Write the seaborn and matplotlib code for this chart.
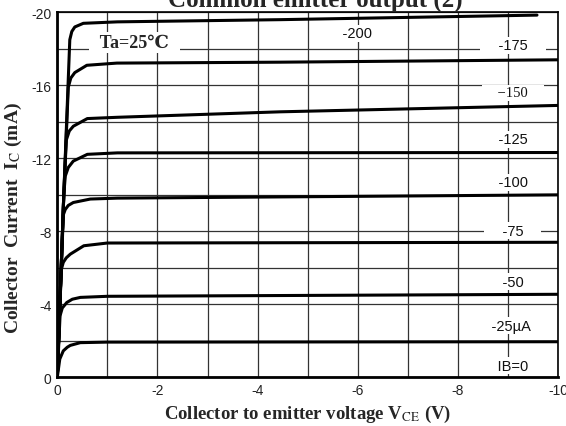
import numpy as np
import pandas as pd
import matplotlib
matplotlib.use("Agg")
import matplotlib.pyplot as plt
import seaborn as sns

# curves: base current label -> (Vce points, Ic points)
ib_labels = ["-200", "-175", "-150", "-125", "-100", "-75", "-50", "-25"]

vce_200 = [0, 0.13, 0.25, 0.29, 0.35, 0.52, 1.2, 4.45, 9.58]
ic_200 = [0, -10.0, -18.5, -18.95, -19.2, -19.4, -19.48, -19.6, -19.85]
vce_175 = [0, 0.13, 0.22, 0.27, 0.35, 0.59, 1.19, 4.45, 10]
ic_175 = [0, -10.0, -15.9, -16.4, -16.7, -17.1, -17.22, -17.27, -17.4]
vce_150 = [0, 0.13, 0.18, 0.24, 0.32, 0.6, 1.2, 4.45, 10]
ic_150 = [0, -10.0, -13.0, -13.5, -13.76, -14.18, -14.25, -14.55, -14.9]
vce_125 = [0, 0.13, 0.16, 0.22, 0.32, 0.6, 1.2, 10]
ic_125 = [0, -10.0, -11.03, -11.5, -11.85, -12.22, -12.3, -12.32]
vce_100 = [0, 0.12, 0.16, 0.22, 0.32, 0.66, 1.2, 10]
ic_100 = [0, -8.9, -9.2, -9.42, -9.58, -9.77, -9.82, -10.0]
vce_75 = [0, 0.08, 0.12, 0.18, 0.26, 0.53, 1.0, 10]
ic_75 = [0, -5.9, -6.3, -6.55, -6.75, -7.21, -7.36, -7.4]
vce_50 = [0, 0.055, 0.1, 0.19, 0.3, 0.46, 1.0, 10]
ic_50 = [0, -3.37, -3.8, -4.1, -4.28, -4.38, -4.44, -4.55]
vce_25 = [0, 0.05, 0.12, 0.2, 0.26, 0.46, 1.0, 10]
ic_25 = [0, -1.0, -1.45, -1.65, -1.75, -1.9, -1.93, -1.95]

# curve annotations (text, Vce, Ic)
note_text = ["-200", "-175", "\u2212150", "-125", "-100", "-75", "-50", "-25\u00b5A", "IB=0"]
note_v = [6.0, 9.1, 9.1, 9.1, 9.1, 9.1, 9.1, 9.05, 9.1]
note_i = [-18.85, -18.2, -15.6, -13.05, -10.7, -8.03, -5.24, -2.83, -0.64]

x_ticks = [0, -2, -4, -6, -8, -10]
y_ticks = [0, -4, -8, -12, -16, -20]

vce_all = [vce_200, vce_175, vce_150, vce_125, vce_100, vce_75, vce_50, vce_25]
ic_all = [ic_200, ic_175, ic_150, ic_125, ic_100, ic_75, ic_50, ic_25]
rows = []
for lab, vs, cs in zip(ib_labels, vce_all, ic_all):
    for v, c in zip(vs, cs):
        rows.append({"ib": lab, "vce": -v, "ic": c})
df = pd.DataFrame(rows)

sns.set_theme(style="white")
plt.rcParams["font.family"] = ["Liberation Sans", "DejaVu Sans"]
plt.rcParams["mathtext.fontset"] = "stix"
serif = ["Liberation Serif", "DejaVu Serif"]

fig = plt.figure(figsize=(5.66, 4.27), dpi=100)
ax = fig.add_axes([0.1012, 0.114, 0.8847, 0.8547])

sns.lineplot(data=df, x="vce", y="ic", units="ib", estimator=None, sort=False,
             color="black", linewidth=2.2, ax=ax, legend=False, zorder=3)

ax.set_xlim(0, -10)
ax.set_ylim(0, -20)
ax.set_xticks(x_ticks)
ax.set_xticks(np.arange(0, -11, -1), minor=True)
ax.set_yticks(y_ticks)
ax.set_yticks(np.arange(0, -21, -2), minor=True)
ax.set_xticklabels([str(t) for t in x_ticks], fontsize=10)
ax.set_yticklabels([str(t) for t in y_ticks], fontsize=10)
ax.tick_params(which="both", length=0, pad=4, colors="#222222")
ax.grid(True, which="both", color="#333333", linewidth=0.9, zorder=1)

for side in ["left", "bottom"]:
    ax.spines[side].set_linewidth(2.0)
for side in ["top", "right"]:
    ax.spines[side].set_linewidth(1.2)
for sp in ax.spines.values():
    sp.set_color("black")

for t, v, i in zip(note_text, note_v, note_i):
    fam = serif if t.startswith("\u2212") else ["Liberation Sans", "DejaVu Sans"]
    ax.text(-v, i, "    " + t + "    ", ha="center", va="center", fontsize=10.5,
            family=fam, color="#111111", zorder=2,
            bbox=dict(facecolor="white", edgecolor="none", pad=1.0))

ax.text(-1.55, -18.35, "  Ta=25\u2103  ", ha="center", va="center", fontsize=13,
        fontweight="bold", family=serif, zorder=2,
        bbox=dict(facecolor="white", edgecolor="none", pad=1.5))

ax.set_xlabel(r"Collector to emitter voltage V$_{\mathrm{CE}}$ (V)", fontsize=13.5,
              fontweight="bold", family=serif, labelpad=4)
ax.set_ylabel(r"Collector  Current  I$_{\mathrm{C}}$ (mA)", fontsize=14,
              fontweight="bold", family=serif)
ax.yaxis.set_label_coords(-0.066, 0.44)

fig.text(0.557, 0.984, "Common emitter output (2)", ha="center", va="baseline",
         fontsize=18, fontweight="bold", family=serif)

fig.savefig("out.png", dpi=100)
